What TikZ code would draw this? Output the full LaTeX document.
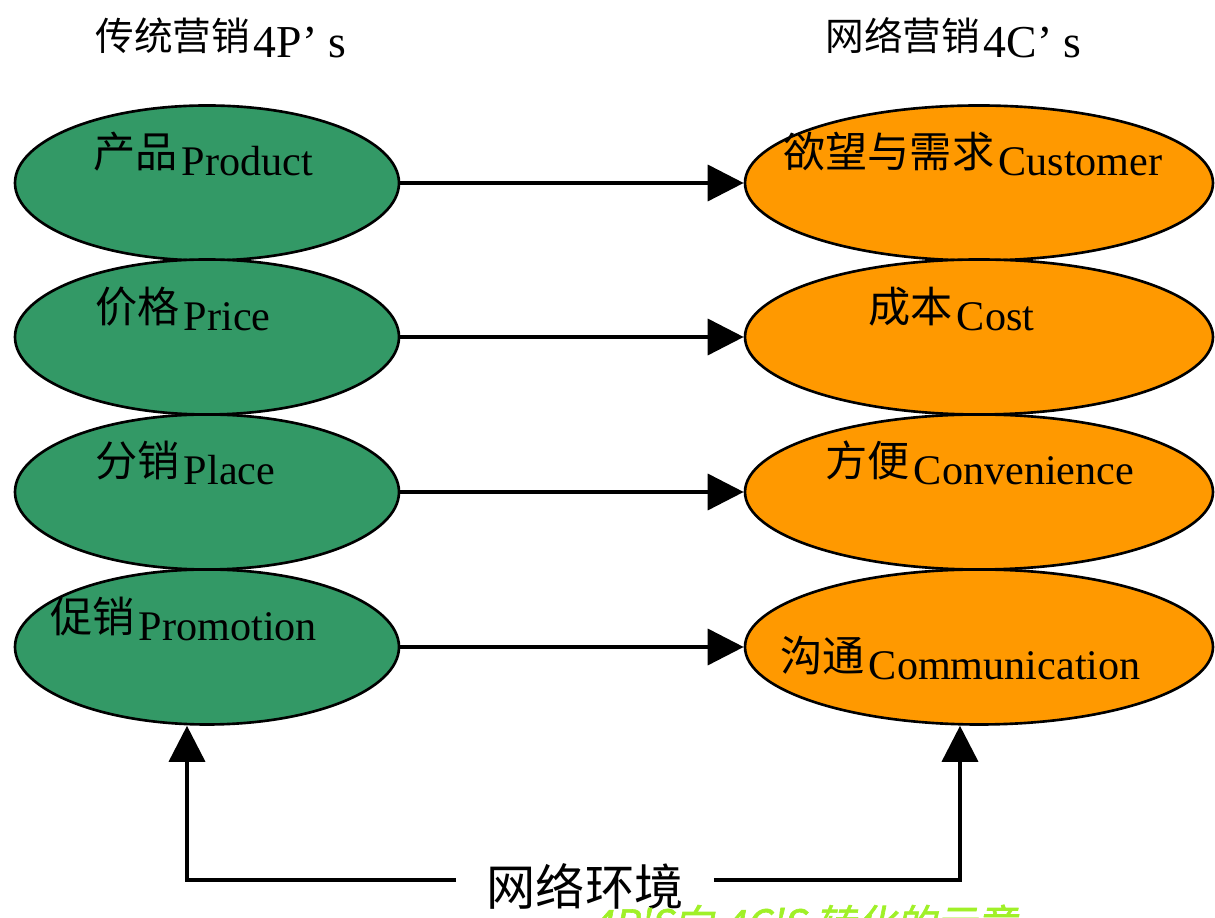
\documentclass[tikz,border=0pt]{standalone}
\usepackage{fontspec}
\setmainfont{Liberation Serif}
\newfontfamily\cjk{Noto Sans CJK SC}
\newfontfamily\cjkslant[FakeSlant=0.2,FakeBold=1.5]{Noto Sans CJK SC}
\usetikzlibrary{shapes.geometric,arrows.meta,calc}
\definecolor{pgreen}{RGB}{51,153,102}
\definecolor{corange}{RGB}{255,153,0}
\definecolor{capgreen}{RGB}{160,240,40}
\newcommand{\zh}[1]{\raisebox{0.2em}{\cjk #1}\hspace{0.1em}}

\begin{document}
\begin{tikzpicture}[
    pell/.style={ellipse, draw, line width=1.5pt, fill=pgreen, minimum width=7.68cm, minimum height=3.1cm, inner sep=0pt},
    cell/.style={pell, fill=corange, minimum width=9.36cm},
    lbl/.style={anchor=base west, inner sep=0pt, font=\fontsize{24}{28}\selectfont},
    conn/.style={line width=2.1pt, -{Triangle[length=0.72cm,width=0.72cm]}}
]
    \useasboundingbox (0,0) rectangle (24.3,18.36);
    \node[lbl] (t4p) at (1.9,17.2) {{\fontsize{22}{26}\selectfont\zh{传统营销}}{\fontsize{26}{30}\selectfont 4P’ s}};
    \node[lbl] (t4c) at (16.5,17.2) {{\fontsize{22}{26}\selectfont\zh{网络营销}}{\fontsize{26}{30}\selectfont 4C’ s}};

    \node[pell] (p1) at (4.14,14.7) {};
    \node[pell] (p2) at (4.14,11.62) {};
    \node[pell] (p3) at (4.14,8.52) {};
    \node[pell] (p4) at (4.14,5.42) {};
    \node[cell] (c1) at (19.58,14.7) {};
    \node[cell] (c2) at (19.58,11.62) {};
    \node[cell] (c3) at (19.58,8.52) {};
    \node[cell] (c4) at (19.58,5.42) {};

    \node[lbl] (p1t) at (1.86,14.84) {\zh{产品}Product};
    \node[lbl] (p2t) at (1.9,11.74) {\zh{价格}Price};
    \node[lbl] (p3t) at (1.9,8.66) {\zh{分销}Place};
    \node[lbl] (p4t) at (1.0,5.54) {\zh{促销}Promotion};
    \node[lbl] (c1t) at (15.66,14.84) {\zh{欲望与需求}Customer};
    \node[lbl] (c2t) at (17.36,11.74) {\zh{成本}Cost};
    \node[lbl] (c3t) at (16.5,8.66) {\zh{方便}Convenience};
    \node[lbl] (c4t) at (15.6,4.76) {\zh{沟通}Communication};

    \draw[conn] (p1.east) -- (c1.west);
    \draw[conn] (p2.east) -- (c2.west);
    \draw[conn] (p3.east) -- (c3.west);
    \draw[conn] (p4.east) -- (c4.west);

    \coordinate (envL) at (3.74,0.76);
    \coordinate (envR) at (19.2,0.76);
    \node[inner xsep=0.6cm, inner ysep=0pt, font=\cjk\fontsize{28}{32}\selectfont] (env) at (11.7,0.62) {网络环境};
    \draw[conn] (env.west |- envL) -- (envL) -- (p4.south -| envL);
    \draw[conn] (env.east |- envR) -- (envR) -- (c4.south -| envR);

    \node[anchor=base west, inner sep=0pt, text=capgreen, font=\cjkslant\fontsize{23}{27}\selectfont] (cap) at (11.8,-0.42) {4P'S向 4C'S 转化的示意};
\end{tikzpicture}
\end{document}
